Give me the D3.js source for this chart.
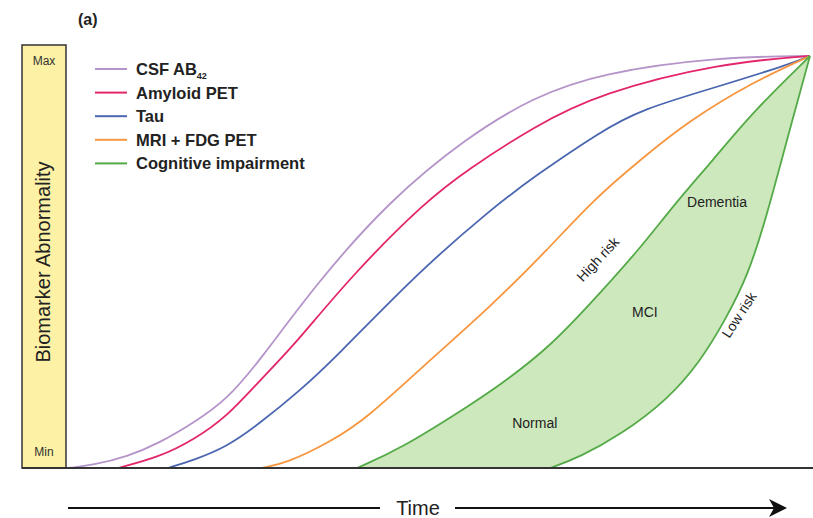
<html>
<head>
<meta charset="utf-8">
<script src="https://d3js.org/d3.v7.min.js"></script>
<style>
  body { margin: 0; background: #fff; }
  text { font-family: Arial, "Liberation Sans", sans-serif; }
</style>
</head>
<body>
<svg class="chart" width="813" height="518"></svg>
<script>

// time (0-100) vs abnormality (0 = min, 1 = max)
const csfAB42 = [[0.3,0],[3.6,0.007],[8.2,0.027],[12.6,0.061],[17.1,0.109],[21.6,0.165],[26.1,0.262],[33.7,0.449],[43.5,0.650],[53.9,0.803],[62.8,0.900],[71.8,0.959],[87.9,0.998],[100,1]];
const amyloidPET = [[7.0,0],[12.6,0.027],[17.1,0.068],[21.6,0.124],[26.1,0.214],[30.5,0.294],[38.2,0.464],[48.5,0.650],[53.9,0.723],[62.8,0.828],[71.8,0.910],[87.9,0.983],[100,1]];
const tau = [[13.7,0],[17.1,0.019],[21.6,0.051],[26.1,0.109],[31.5,0.189],[35.9,0.262],[47.2,0.473],[57.0,0.626],[62.8,0.706],[71.8,0.816],[77.2,0.870],[87.9,0.927],[96.9,0.978],[100,1]];
const mriFdgPET = [[26.3,0],[29.7,0.012],[35.5,0.063],[40.5,0.121],[48.9,0.262],[57.0,0.391],[64.7,0.529],[70.8,0.650],[77.2,0.748],[83.5,0.840],[92.3,0.937],[100,1]];
// cognitive impairment band
const highRisk = [[39.1,0],[44.9,0.046],[53.9,0.148],[58.3,0.201],[65.1,0.294],[71.8,0.425],[77.2,0.534],[81.9,0.643],[87.0,0.748],[92.3,0.864],[100,1]];
const lowRisk = [[65.1,0],[69.1,0.027],[74.5,0.080],[80.8,0.165],[85.2,0.257],[88.6,0.359],[91.7,0.468],[94.2,0.614],[96.0,0.735],[98.0,0.869],[100,1]];

const legendNames = ["CSF AB", "Amyloid PET", "Tau", "MRI + FDG PET", "Cognitive impairment"];
const legendColors = ["#b594c9", "#e3266b", "#4b66b0", "#f7963f", "#55aa48"];
const levelTicks = ["Min", "Max"];
const stageNames = ["Normal", "MCI", "Dementia"];
const riskNames = ["High risk", "Low risk"];

const svg = d3.select('.chart');

const x = d3.scaleLinear().domain([0, 100]).range([66, 810]);
const y = d3.scaleLinear().domain([0, 1]).range([468, 56]);

// basis spline smooths out the hand-read points
const line = d3.line()
    .x(d => x(d[0]))
    .y(d => y(d[1]))
    .curve(d3.curveBasis);

// yellow y-axis box
svg.append("rect")
    .attr("x", 22).attr("y", 45)
    .attr("width", 44).attr("height", y(0) - 45)
    .attr("fill", "#fcf1a4")
    .attr("stroke", "#333").attr("stroke-width", 1.5);

svg.append("text")
    .attr("x", 44).attr("y", y(1) + 9)
    .attr("text-anchor", "middle")
    .attr("font-size", 12).attr("fill", "#333")
    .text(levelTicks[1]);
svg.append("text")
    .attr("x", 44).attr("y", y(0) - 12)
    .attr("text-anchor", "middle")
    .attr("font-size", 12).attr("fill", "#333")
    .text(levelTicks[0]);

svg.append("text")
    .attr("transform", "translate(50," + y(0.5) + ") rotate(-90)")
    .attr("text-anchor", "middle")
    .attr("font-size", 20).attr("fill", "#222")
    .text("Biomarker Abnormality");

// cognitive band fill
const bandPath = line(highRisk) + "L" + line(lowRisk.slice().reverse()).slice(1) + "Z";
svg.append("path")
    .attr("d", bandPath)
    .attr("fill", "#cde8bd");

// curves
const curves = [csfAB42, amyloidPET, tau, mriFdgPET, highRisk, lowRisk];
const curveColors = [legendColors[0], legendColors[1], legendColors[2], legendColors[3], legendColors[4], legendColors[4]];

svg.selectAll(".curve")
    .data(curves)
    .enter().append("path")
    .attr("class", "curve")
    .attr("d", d => line(d))
    .attr("fill", "none")
    .attr("stroke", (d, i) => curveColors[i])
    .attr("stroke-width", 1.8);

// baseline
svg.append("line")
    .attr("x1", 22).attr("x2", 813)
    .attr("y1", y(0)).attr("y2", y(0))
    .attr("stroke", "#333").attr("stroke-width", 2);

// stage labels
const stagePos = [[63.0, 0.105], [77.8, 0.375], [87.5, 0.643]];
svg.selectAll(".stage")
    .data(stageNames)
    .enter().append("text")
    .attr("class", "stage")
    .attr("x", (d, i) => x(stagePos[i][0]))
    .attr("y", (d, i) => y(stagePos[i][1]))
    .attr("text-anchor", "middle")
    .attr("dominant-baseline", "middle")
    .attr("font-size", 14).attr("fill", "#222")
    .text(d => d);

// risk labels along the band edges
const riskPos = [[71.6, 0.505, -47], [90.6, 0.37, -57]];
svg.selectAll(".risk")
    .data(riskNames)
    .enter().append("text")
    .attr("class", "risk")
    .attr("transform", (d, i) => "translate(" + x(riskPos[i][0]) + "," + y(riskPos[i][1]) + ") rotate(" + riskPos[i][2] + ")")
    .attr("text-anchor", "middle")
    .attr("dominant-baseline", "middle")
    .attr("font-size", 14).attr("fill", "#222")
    .text(d => d);

// legend
const legend = svg.selectAll(".legend")
    .data(legendNames)
    .enter().append("g")
    .attr("class", "legend")
    .attr("transform", (d, i) => "translate(95," + (69 + i * 23.6) + ")");

legend.append("line")
    .attr("x1", 0).attr("x2", 32)
    .attr("stroke", (d, i) => legendColors[i])
    .attr("stroke-width", 2);

const legendText = legend.append("text")
    .attr("x", 41).attr("y", 6)
    .attr("font-size", 16.5).attr("font-weight", "bold").attr("fill", "#222")
    .text(d => d);

legendText.filter((d, i) => i === 0)
    .append("tspan")
    .attr("dy", 4)
    .attr("font-size", 9)
    .text("42");

// panel label
svg.append("text")
    .attr("x", 78).attr("y", 25)
    .attr("font-size", 16).attr("font-weight", "bold").attr("fill", "#222")
    .text("(a)");

// time arrow
svg.append("line")
    .attr("x1", 68).attr("x2", 380)
    .attr("y1", 508).attr("y2", 508)
    .attr("stroke", "#111").attr("stroke-width", 2);
svg.append("line")
    .attr("x1", 455).attr("x2", 775)
    .attr("y1", 508).attr("y2", 508)
    .attr("stroke", "#111").attr("stroke-width", 2);
svg.append("path")
    .attr("d", "M787,508 L769,499 L774,508 L769,517 Z")
    .attr("fill", "#111");
svg.append("text")
    .attr("x", 418).attr("y", 515)
    .attr("text-anchor", "middle")
    .attr("font-size", 20).attr("fill", "#222")
    .text("Time");

</script>
</body>
</html>
